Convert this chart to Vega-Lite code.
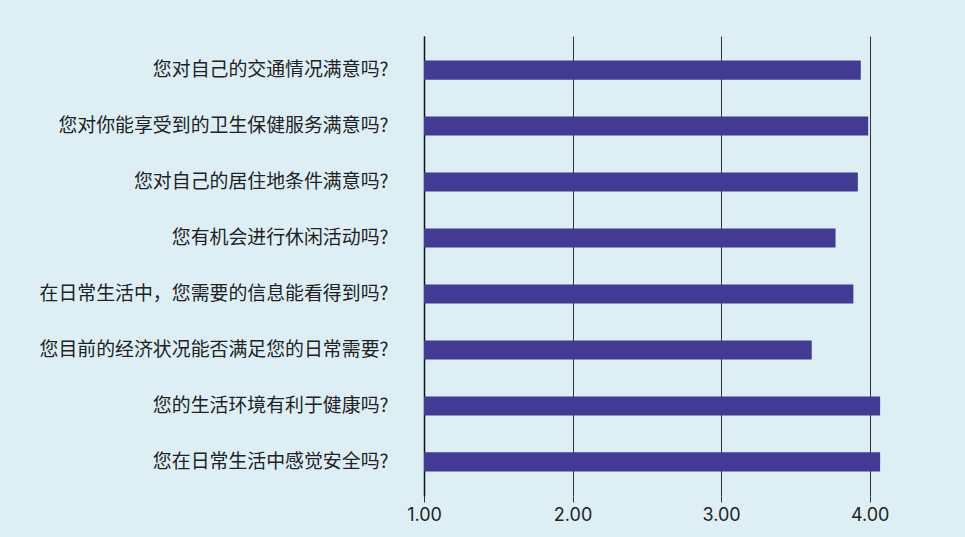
{
  "$schema": "https://vega.github.io/schema/vega-lite/v6.json",
  "width": 520,
  "height": 460,
  "autosize": {"type": "none"},
  "padding": {"left": 424, "top": 36, "right": 21, "bottom": 41},
  "background": "#ddeff5",
  "config": {
    "view": {"stroke": null},
    "font": "Inter, Noto Sans CJK SC"
  },
  "data": {
    "values": [
      {"q": "您对自己的交通情况满意吗?", "v": 3.94},
      {"q": "您对你能享受到的卫生保健服务满意吗?", "v": 3.99},
      {"q": "您对自己的居住地条件满意吗?", "v": 3.92},
      {"q": "您有机会进行休闲活动吗?", "v": 3.77},
      {"q": "在日常生活中，您需要的信息能看得到吗?", "v": 3.89},
      {"q": "您目前的经济状况能否满足您的日常需要?", "v": 3.61},
      {"q": "您的生活环境有利于健康吗?", "v": 4.07},
      {"q": "您在日常生活中感觉安全吗?", "v": 4.07}
    ]
  },
  "mark": {"type": "bar", "color": "#433a93"},
  "encoding": {
    "y": {
      "field": "q", "type": "nominal", "sort": null,
      "scale": {"paddingInner": 0.66, "paddingOuter": 0.44},
      "axis": {
        "title": null, "ticks": false, "domainColor": "#111111", "domainWidth": 1.5,
        "labelFontSize": 18.9, "labelColor": "#222222", "labelPadding": 36, "grid": false,
        "labelFont": "Noto Sans CJK SC", "labelLimit": 420
      }
    },
    "x": {
      "field": "v", "type": "quantitative",
      "scale": {"domain": [1, 4.5], "zero": false, "nice": false},
      "axis": {
        "title": null, "values": [1, 2, 3, 4], "format": ".2f", "domain": false,
        "grid": true, "gridColor": "#333333", "gridOpacity": 1, "gridWidth": 1,
        "ticks": true, "tickColor": "#333333", "tickSize": 6,
        "labelFontSize": 18, "labelColor": "#222222", "labelPadding": 4, "labelFlush": false
      }
    },
    "x2": {"datum": 1}
  }
}
